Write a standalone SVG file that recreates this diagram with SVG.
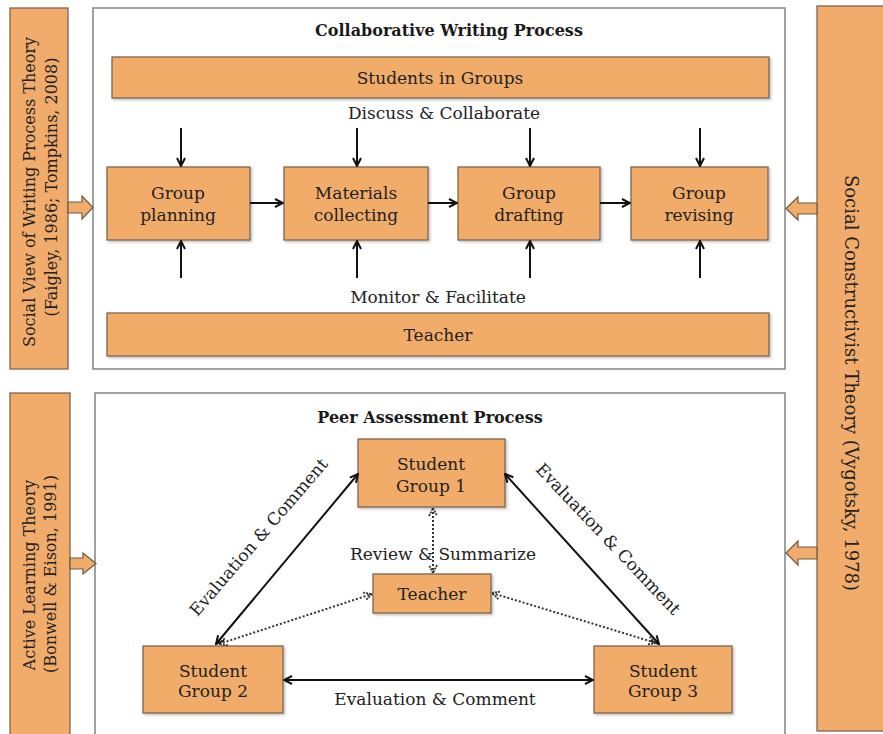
<svg xmlns="http://www.w3.org/2000/svg" width="883" height="734" viewBox="0 0 883 734">
  <defs>
    <style>
      .box { fill: #F1AC6B; stroke: #7d6650; stroke-width: 1.3; }
      .frame { fill: #ffffff; stroke: #8a8a8a; stroke-width: 1.6; }
      .blk { fill: #F1AC6B; stroke: #6e5a48; stroke-width: 1.2; stroke-linejoin: miter; }
      .t { font-family: "DejaVu Serif", "Liberation Serif", serif; font-size: 17px; fill: #222222; text-anchor: middle; }
      .title { font-family: "DejaVu Serif", "Liberation Serif", serif; font-size: 16px; font-weight: bold; fill: #1a1a1a; text-anchor: middle; }
      .side { font-family: "DejaVu Serif", "Liberation Serif", serif; font-size: 16px; fill: #222222; text-anchor: middle; }
      .big { font-family: "DejaVu Serif", "Liberation Serif", serif; font-size: 18px; fill: #222222; text-anchor: middle; }
      .solid { stroke: #111111; stroke-width: 2; fill: none; }
      .dot { stroke: #333333; stroke-width: 2; stroke-dasharray: 2 2; fill: none; }
    </style>
    <marker id="head" viewBox="0 0 10 10" refX="9" refY="5" markerWidth="10" markerHeight="10" markerUnits="userSpaceOnUse" orient="auto-start-reverse">
      <path d="M1,1 L9,5 L1,9" fill="none" stroke="#111111" stroke-width="2"/>
    </marker>
    <marker id="headDot" viewBox="0 0 10 10" refX="9" refY="5" markerWidth="10" markerHeight="10" markerUnits="userSpaceOnUse" orient="auto-start-reverse">
      <path d="M1,1 L9,5 L1,9" fill="none" stroke="#333333" stroke-width="1.8" stroke-dasharray="2 1"/>
    </marker>
    <filter id="shadow" x="-5%" y="-5%" width="115%" height="125%">
      <feDropShadow dx="1.5" dy="1.5" stdDeviation="1" flood-color="#000000" flood-opacity="0.25"/>
    </filter>
  </defs>

  <rect x="0" y="0" width="883" height="734" fill="#ffffff"/>

  <!-- outer theory bars -->
  <g id="theory-social-view">
    <rect class="box" x="10" y="8" width="58" height="361"/>
    <text class="side" transform="translate(35,192) rotate(-90)">Social View of Writing Process Theory</text>
    <text class="side" transform="translate(57,187) rotate(-90)">(Faigley, 1986; Tompkins, 2008)</text>
  </g>
  <g id="theory-active-learning">
    <rect class="box" x="10" y="393" width="60" height="350"/>
    <text class="side" transform="translate(35,575) rotate(-90)">Active Learning Theory</text>
    <text class="side" transform="translate(56,574) rotate(-90)">(Bonwell &amp; Eison, 1991)</text>
  </g>
  <g id="theory-social-constructivist">
    <rect class="box" x="817" y="6" width="72" height="725"/>
    <text class="big" transform="translate(845,383) rotate(90)">Social Constructivist Theory (Vygotsky, 1978)</text>
  </g>

  <!-- process frames -->
  <g id="frame-writing">
    <rect class="frame" x="93" y="8" width="692" height="361"/>
    <text class="title" x="449" y="36">Collaborative Writing Process</text>
  </g>
  <g id="frame-peer">
    <rect class="frame" x="95" y="393" width="690" height="360"/>
    <text class="title" x="430" y="423">Peer Assessment Process</text>
  </g>

  <!-- block arrows feeding the frames -->
  <g id="feed-arrows">
    <polygon class="blk" points="68,202 82,202 82,196 93,207.5 82,219 82,213 68,213"/>
    <polygon class="blk" points="70,558 83,558 83,553 96,563.5 83,574 83,569 70,569"/>
    <polygon class="blk" points="817,203 798,203 798,197 786,208.5 798,220 798,214 817,214"/>
    <polygon class="blk" points="817,547 798,547 798,541 786,553 798,565 798,559 817,559"/>
  </g>

  <!-- writing process nodes -->
  <g id="students-in-groups">
    <rect class="box" x="112" y="57" width="657" height="41" filter="url(#shadow)"/>
    <text class="t" x="440" y="84">Students in Groups</text>
  </g>
  <g id="teacher-bar">
    <rect class="box" x="107" y="313" width="662" height="43" filter="url(#shadow)"/>
    <text class="t" x="438" y="341">Teacher</text>
  </g>
  <g id="group-planning">
    <rect class="box" x="107" y="167" width="143" height="73" filter="url(#shadow)"/>
    <text class="t" x="178" y="199">Group</text>
    <text class="t" x="178" y="221">planning</text>
  </g>
  <g id="materials-collecting">
    <rect class="box" x="284" y="167" width="144" height="73" filter="url(#shadow)"/>
    <text class="t" x="356" y="199">Materials</text>
    <text class="t" x="356" y="221">collecting</text>
  </g>
  <g id="group-drafting">
    <rect class="box" x="458" y="167" width="142" height="73" filter="url(#shadow)"/>
    <text class="t" x="529" y="199">Group</text>
    <text class="t" x="529" y="221">drafting</text>
  </g>
  <g id="group-revising">
    <rect class="box" x="631" y="167" width="137" height="73" filter="url(#shadow)"/>
    <text class="t" x="699" y="199">Group</text>
    <text class="t" x="699" y="221">revising</text>
  </g>

  <!-- peer assessment nodes -->
  <g id="student-group-1">
    <rect class="box" x="358" y="439" width="147" height="68" filter="url(#shadow)"/>
    <text class="t" x="431" y="470">Student</text>
    <text class="t" x="431" y="492">Group 1</text>
  </g>
  <g id="peer-teacher">
    <rect class="box" x="373" y="574" width="118" height="39" filter="url(#shadow)"/>
    <text class="t" x="432" y="600">Teacher</text>
  </g>
  <g id="student-group-2">
    <rect class="box" x="143" y="646" width="140" height="67" filter="url(#shadow)"/>
    <text class="t" x="213" y="677">Student</text>
    <text class="t" x="213" y="697">Group 2</text>
  </g>
  <g id="student-group-3">
    <rect class="box" x="594" y="646" width="138" height="67" filter="url(#shadow)"/>
    <text class="t" x="663" y="677">Student</text>
    <text class="t" x="663" y="697">Group 3</text>
  </g>

  <!-- connectors -->
  <g id="connectors">
    <text class="t" x="444" y="119">Discuss &amp; Collaborate</text>
    <text class="t" x="438" y="303">Monitor &amp; Facilitate</text>

    <line class="solid" x1="181" y1="128" x2="181" y2="166" marker-end="url(#head)"/>
    <line class="solid" x1="357" y1="128" x2="357" y2="166" marker-end="url(#head)"/>
    <line class="solid" x1="530" y1="128" x2="530" y2="166" marker-end="url(#head)"/>
    <line class="solid" x1="700" y1="128" x2="700" y2="166" marker-end="url(#head)"/>

    <line class="solid" x1="181" y1="278" x2="181" y2="241" marker-end="url(#head)"/>
    <line class="solid" x1="357" y1="278" x2="357" y2="241" marker-end="url(#head)"/>
    <line class="solid" x1="530" y1="278" x2="530" y2="241" marker-end="url(#head)"/>
    <line class="solid" x1="700" y1="278" x2="700" y2="241" marker-end="url(#head)"/>

    <line class="solid" x1="250" y1="203" x2="283" y2="203" marker-end="url(#head)"/>
    <line class="solid" x1="428" y1="203" x2="457" y2="203" marker-end="url(#head)"/>
    <line class="solid" x1="600" y1="203" x2="630" y2="203" marker-end="url(#head)"/>

    <line class="solid" x1="216" y1="644" x2="358" y2="474" marker-start="url(#head)" marker-end="url(#head)"/>
    <line class="solid" x1="505" y1="474" x2="659" y2="644" marker-start="url(#head)" marker-end="url(#head)"/>
    <line class="solid" x1="284" y1="680" x2="593" y2="680" marker-start="url(#head)" marker-end="url(#head)"/>

    <line class="dot" x1="433" y1="508" x2="433" y2="573" marker-start="url(#headDot)" marker-end="url(#headDot)"/>
    <line class="dot" x1="219" y1="644" x2="372" y2="594" marker-start="url(#headDot)" marker-end="url(#headDot)"/>
    <line class="dot" x1="492" y1="593" x2="656" y2="643" marker-start="url(#headDot)" marker-end="url(#headDot)"/>

    <text class="t" transform="translate(263,541) rotate(-49.3)">Evaluation &amp; Comment</text>
    <text class="t" transform="translate(604,543) rotate(46.5)">Evaluation &amp; Comment</text>
    <text class="t" x="435" y="705">Evaluation &amp; Comment</text>
    <text class="t" x="443" y="560">Review &amp; Summarize</text>
  </g>
</svg>
